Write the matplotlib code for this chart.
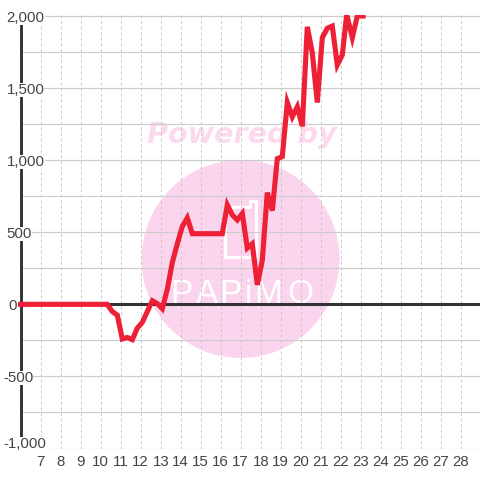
import matplotlib
matplotlib.use('Agg')
import matplotlib.pyplot as plt
from matplotlib.patches import Circle, PathPatch, Rectangle
from matplotlib.path import Path
from matplotlib.transforms import Affine2D

plt.rcParams['font.family'] = ['Liberation Sans', 'DejaVu Sans']

hours = [5.87, 10.33, 10.58, 10.83, 11.08, 11.33, 11.58, 11.83, 12.08, 12.33, 12.58, 12.83, 13.08,
         13.33, 13.58, 13.83, 14.08, 14.33, 14.58, 14.83, 15.08, 15.33, 15.58, 15.83, 16.08,
         16.33, 16.58, 16.83, 17.08, 17.33, 17.58, 17.83, 18.08, 18.33, 18.58, 18.83, 19.08,
         19.33, 19.58, 19.83, 20.08, 20.33, 20.58, 20.83, 21.08, 21.33, 21.58, 21.83, 22.08,
         22.3, 22.58, 22.83, 23.12]
values = [0, 0, -50, -75, -240, -230, -245, -165, -125, -50, 25, 5, -30,
          105, 290, 420, 540, 600, 490, 490, 490, 490, 490, 490, 490,
          690, 620, 585, 630, 390, 420, 135, 305, 775, 650, 1010, 1025,
          1400, 1300, 1370, 1235, 1925, 1745, 1400, 1850, 1915, 1930, 1660, 1730,
          2010, 1850, 2000, 2000]

x_ticks = list(range(7, 29))
y_grid = [-1000, -750, -500, -250, 250, 500, 750, 1000, 1250, 1500, 1750, 2000]
y_labels = [2000, 1500, 1000, 500, 0, -500, -1000]
logo_letters = ['P', 'A', 'P', 'i', 'M', 'O']
logo_x = [181, 207, 230, 248, 268, 300]

fig = plt.figure(figsize=(4.8, 4.8), dpi=100)
ax = fig.add_axes([20.7 / 480, 31.5 / 480, (480 - 20.7) / 480, 433.5 / 480])
ax.set_xlim(6, 28.965)
ax.set_ylim(-1000, 2007)
ax.patch.set_alpha(0)

# px = coordenadas em pixels da figura, y de cima pra baixo
px = Affine2D().scale(1, -1).translate(0, 480)

# marca d'agua
fig.add_artist(Circle((240.5, 259), 99, color='#fbd5ee', lw=0, transform=px, zorder=-5))
fig.text(242 / 480, 1 - 135 / 480, 'Powered by', color='#fcd9ef', fontsize=20.6, ha='center', va='center',
         family='DejaVu Sans', weight='bold', style='oblique', zorder=-5)
phone = Path([(225, 207), (250, 207), (250, 201), (256, 201), (256, 257), (225, 257), (225, 207)], closed=True)
fig.add_artist(PathPatch(phone, fc='none', ec='white', lw=2.2, joinstyle='round', transform=px, zorder=-4))
for letter, lx in zip(logo_letters, logo_x):
    fig.text(lx / 480, 1 - 303 / 480, letter, color='white', fontsize=24, ha='center', va='baseline',
             family=['Liberation Sans Narrow', 'Liberation Sans'], zorder=-4)

for t in x_ticks:
    ax.axvline(t, color='#c8c8c8', lw=0.72, dashes=(2.8, 2.8), zorder=1)
for v in y_grid:
    ax.axhline(v, color='#cccccc', lw=0.85, zorder=1)
ax.axhline(0, color='#333333', lw=2.2, zorder=2)
line, = ax.plot(hours, values, color='#ee2035', lw=3.7, solid_joinstyle='miter', zorder=3)
line.set_clip_path(Rectangle((18, 15), 462, 434, transform=px))

for s in ['top', 'right', 'bottom']:
    ax.spines[s].set_visible(False)
ax.spines['left'].set_linewidth(2.1)
ax.spines['left'].set_color('#333333')
ax.spines['left'].set_zorder(2)
ax.set_xticks([])
ax.set_yticks([])

for t in x_ticks:
    ax.annotate(str(t), (t, 0), xycoords=('data', 'axes fraction'), xytext=(0, -13), textcoords='offset pixels',
                ha='center', va='center', fontsize=10.8, color='#444444')
for v in y_labels:
    s = f'{v:,}'
    left = 3 if v < 0 else (8 if v == 0 else 6.5)
    up = 6 if v == -1000 else 0
    ax.annotate(s, (0, v), xycoords=('figure fraction', 'data'), xytext=(left, up), textcoords='offset pixels',
                ha='left', va='center_baseline', fontsize=10.8, color='#444444', zorder=5,
                bbox=dict(fc='white', ec='none', pad=0))

fig.savefig('out.png', dpi=100)
